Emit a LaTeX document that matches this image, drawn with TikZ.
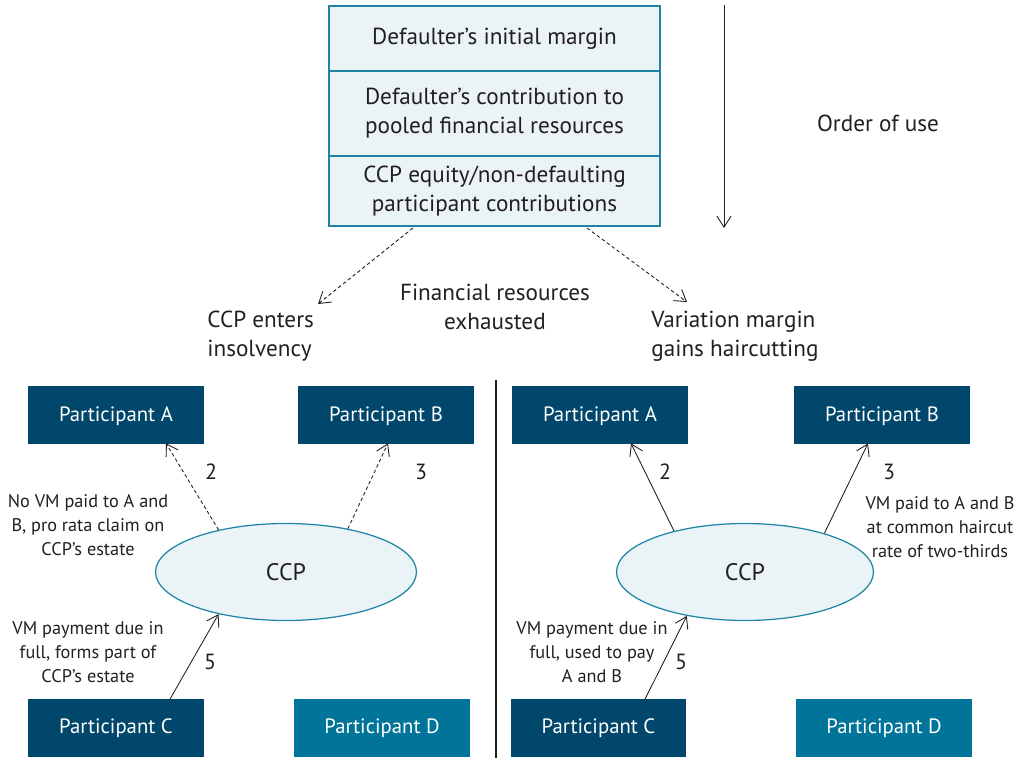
\documentclass[tikz,border=0pt]{standalone}
\usepackage{fontspec}
\setmainfont{PT Sans}
\usetikzlibrary{arrows.meta,calc,shapes.geometric}

\definecolor{navy}{HTML}{00476B}
\definecolor{tealD}{HTML}{007599}
\definecolor{paleblue}{HTML}{EAF3F6}
\definecolor{rim}{HTML}{1F84A6}
\definecolor{ink}{HTML}{231F20}

\tikzset{
  layer/.style={draw=rim, fill=paleblue, line width=0.7pt, minimum width=6.62cm, align=center, inner sep=0pt, text=ink, font=\fontsize{13.2}{16.5}\selectfont},
  party/.style={fill=navy, text=white, minimum width=3.52cm, minimum height=1.16cm, inner sep=0pt, text height=1.55ex, text depth=0.1ex, font=\fontsize{11.8}{14}\selectfont},
  ccpnode/.style={ellipse, draw=rim, fill=paleblue, line width=0.7pt, minimum width=5.22cm, minimum height=1.94cm, text=ink, font=\fontsize{13.6}{15}\selectfont},
  note/.style={align=center, inner sep=0pt, text=ink, font=\fontsize{10.4}{13.6}\selectfont},
  head/.style={inner sep=0pt, text=ink, font=\fontsize{13.2}{16.5}\selectfont},
  num/.style={inner sep=0pt, text=ink, font=\fontsize{12.5}{14}\selectfont},
  flow/.style={-{Straight Barb[length=2.2mm,width=2.8mm]}, line width=0.5pt, draw=ink},
  dflow/.style={flow, dash pattern=on 2pt off 1.5pt}
}

\begin{document}
\begin{tikzpicture}[x=0.02cm, y=-0.02cm]
	\useasboundingbox (0,0) rectangle (1029,758);
	% stack of resources
	\node[layer, minimum height=1.3cm] (im) at (494.5,38.5) {Defaulter’s initial margin};
	\node[layer, minimum height=1.7cm] (pool) at (494.5,113.5) {Defaulter’s contribution to\\pooled financial resources};
	\node[layer, minimum height=1.4cm] (equity) at (494.5,191) {CCP equity/non-defaulting\\participant contributions};
	% order of use
	\coordinate (ordtop) at (724,5);
	\coordinate (ordbot) at (724,228);
	\draw[flow] (ordtop) -- (ordbot);
	\node[head] (order) at (878,123) {Order of use};
	% two outcomes
	\node[head, align=center] (exh) at (495,306.5) {Financial resources\\exhausted};
	\node[head, align=left, anchor=west] (insolv) at (207,336.5) {CCP enters\\insolvency};
	\node[head, align=left, anchor=west] (vmgh) at (651,336.5) {Variation margin\\gains haircutting};
	\coordinate (splitL) at (413,228);
	\coordinate (splitR) at (587,228);
	\coordinate (tipL) at (318,304);
	\coordinate (tipR) at (687,302);
	\draw[dflow] (splitL) -- (tipL);
	\draw[dflow] (splitR) -- (tipR);
	% divider
	\coordinate (divtop) at (496,380);
	\coordinate (divbot) at (496,758);
	\draw[line width=0.6pt, ink] (divtop) -- (divbot);

	% left panel: insolvency
	\node[party] (lA) at (116,415) {Participant A};
	\node[party] (lB) at (386,415) {Participant B};
	\node[party] (lC) at (116,727.5) {Participant C};
	\node[party, fill=tealD] (lD) at (382,727.5) {Participant D};
	\node[ccpnode] (lccp) at (286,572) {CCP};
	\draw[dflow] (lccp.148) -- ($(lA.south)+(50,-1)$);
	\draw[dflow] (lccp.35) -- ($(lB.south)+(2,-1)$);
	\draw[flow] ($(lC.north)+(54,1)$) -- (lccp.212);
	\node[num] (l2) at (211,472) {2};
	\node[num] (l3) at (421,472) {3};
	\node[num] (l5) at (210,662) {5};
	\node[note] (lnoVM) at (88,525) {No VM paid to A and\\B, pro rata claim on\\CCP’s estate};
	\node[note] (lpay) at (88,652) {VM payment due in\\full, forms part of\\CCP’s estate};

	% right panel: haircutting
	\node[party] (rA) at (600,415) {Participant A};
	\node[party] (rB) at (882,415) {Participant B};
	\node[party] (rC) at (598.5,727.5) {Participant C};
	\node[party, fill=tealD] (rD) at (884,727.5) {Participant D};
	\node[ccpnode, minimum width=5.14cm] (rccp) at (745,572) {CCP};
	\draw[flow] (rccp.150) -- ($(rA.south)+(31,-1)$);
	\draw[flow] (rccp.26) -- ($(rB.south)+(-14,-1)$);
	\draw[flow] ($(rC.north)+(46.5,1)$) -- (rccp.217);
	\node[num] (r2) at (665,472) {2};
	\node[num] (r3) at (889,472) {3};
	\node[num] (r5) at (681,662) {5};
	\node[note] (rhair) at (940,527) {VM paid to A and B\\at common haircut\\rate of two-thirds};
	\node[note] (rpay) at (592,652) {VM payment due in\\full, used to pay\\A and B};
\end{tikzpicture}
\end{document}
